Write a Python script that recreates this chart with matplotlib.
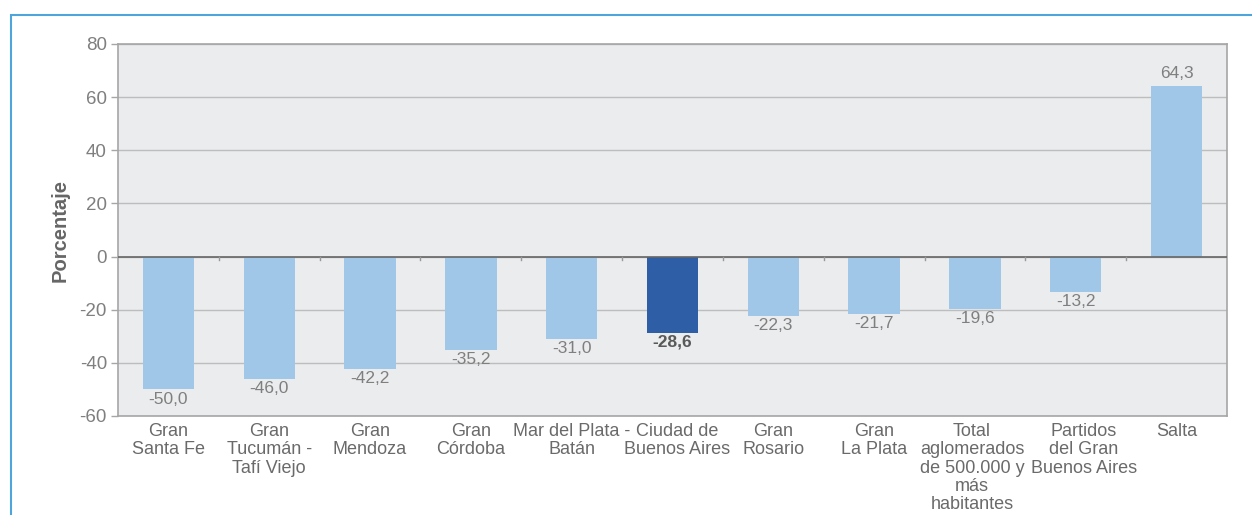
import matplotlib.pyplot as plt
from matplotlib.patches import Rectangle
from matplotlib.transforms import ScaledTranslation

categorias = ["Gran\nSanta Fe", "Gran\nTucumán -\nTafí Viejo", "Gran\nMendoza", "Gran\nCórdoba",
              "Mar del Plata -\nBatán", "Ciudad de\nBuenos Aires", "Gran\nRosario", "Gran\nLa Plata",
              "Total\naglomerados\nde 500.000 y\nmás\nhabitantes", "Partidos\ndel Gran\nBuenos Aires", "Salta"]
valores = [-50.0, -46.0, -42.2, -35.2, -31.0, -28.6, -22.3, -21.7, -19.6, -13.2, 64.3]
destacado = 5

plt.rcParams['font.family'] = ['Liberation Sans', 'DejaVu Sans']
plt.rcParams['axes.unicode_minus'] = False
gris = '#7f7f7f'

fig = plt.figure(figsize=(12.52, 5.15), dpi=100)
ax = fig.add_axes([118 / 1252, 1 - 416 / 515, (1227 - 118) / 1252, (416 - 44) / 515])
fig.patches.append(Rectangle((11 / 1252, -0.1), 1.2, 1 - 15 / 515 + 0.1, transform=fig.transFigure,
                             fill=False, edgecolor='#4ea5dc', linewidth=1.5))

ax.set_facecolor('#ebeced')
x = range(len(valores))
colores = ['#2e5fa6' if i == destacado else '#a0c6e8' for i in x]
ax.bar(x, valores, width=0.51, color=colores, zorder=3)

ax.set_xlim(-0.5, len(valores) - 0.5)
ax.set_ylim(-60, 80)
ax.set_yticks(range(-60, 81, 20))
ax.yaxis.grid(True, color='#bdbdbd', linewidth=1, zorder=1)
ax.axhline(0, color='#666666', linewidth=1.2, zorder=4)
for b in [i + 0.5 for i in range(len(valores) - 1)]:
    ax.plot([b, b], [0, -1.2], color='#999999', linewidth=1, zorder=4)

for s in ax.spines.values():
    s.set_color('#a6a6a6')
    s.set_linewidth(1.2)

ax.tick_params(axis='y', colors='#a6a6a6', labelcolor=gris, labelsize=13.5, length=5, width=1, pad=3)
ax.set_xticks(list(x))
ax.set_xticklabels(categorias, fontsize=13, color='#6a6a6a', linespacing=1.1, va='top')
ax.tick_params(axis='x', length=0, pad=5)
# small nudges so neighbouring labels don't collide (as in the original)
for i, dx in [(5, 5), (8, -3), (9, 8)]:
    lab = ax.get_xticklabels()[i]
    lab.set_transform(lab.get_transform() + ScaledTranslation(dx / 100, 0, fig.dpi_scale_trans))
ax.set_ylabel('Porcentaje', fontsize=14.5, fontweight='bold', color='#666666', labelpad=7)

for i, v in enumerate(valores):
    txt = f"{v:.1f}".replace('.', ',')
    off = 9 if v > 0 else -7
    ax.annotate(txt, (i, v), xytext=(0, off), textcoords='offset points', ha='center',
                va='center', fontsize=12.5, color='#595959' if i == destacado else gris,
                fontweight='bold' if i == destacado else 'normal', zorder=5)

fig.savefig('out.png', dpi=100)
